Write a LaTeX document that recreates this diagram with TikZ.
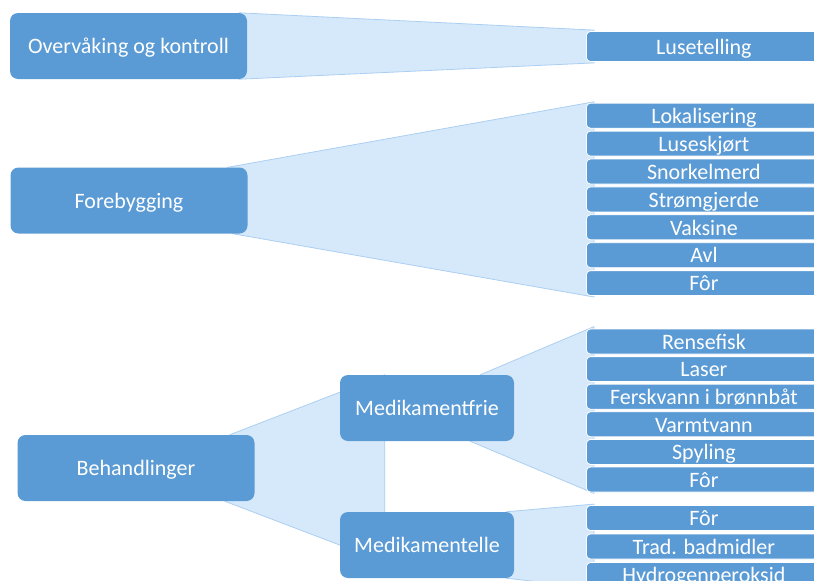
\documentclass[tikz,border=0pt]{standalone}
\usepackage{fontspec}
\setmainfont{Carlito}
\usetikzlibrary{calc}
\definecolor{boxblue}{HTML}{5B9BD5}
\definecolor{fanfill}{HTML}{D6E9FA}
\definecolor{fanline}{HTML}{ABCFF2}
\pgfdeclarelayer{bg}
\pgfsetlayers{bg,main}
\tikzset{
  lbl/.style={text=white, font=\fontsize{22}{24}\selectfont, text height=15.5pt, text depth=0pt, inner sep=0pt},
  mainbox/.style={lbl, fill=boxblue, rounded corners=8pt, minimum width=237pt, minimum height=66pt},
  midbox/.style={lbl, fill=boxblue, rounded corners=8pt, minimum width=174pt, minimum height=66pt},
  leaf/.style={lbl, fill=boxblue, draw=white, line width=0.8pt, rounded corners=4pt, minimum width=235pt, minimum height=25pt, anchor=west},
  fan/.style={fill=fanfill, draw=fanline, line width=0.8pt, line join=round},
}
\begin{document}
\begin{tikzpicture}[x=1pt, y=-1pt]
\useasboundingbox (0,0) rectangle (814,581);
\clip (0,0) rectangle (814,581);

% main boxes
\path
  (128.5,46)  node[mainbox] (ovk) {Overvåking og kontroll}
  (129,200.5) node[mainbox] (fore) {Forebygging}
  (136,468)   node[mainbox] (beh) {Behandlinger}
  (427,408)   node[midbox] (mf) {Medikamentfrie}
  (427,545)   node[midbox] (me) {Medikamentelle};

% leaves
\path
  (586,46.5)  node[leaf, minimum height=30pt] (lus) {Lusetelling}
  (586,115.7) node[leaf] (lok) {Lokalisering}
  (586,143.6) node[leaf] (lsk) {Luseskjørt}
  (586,171.5) node[leaf] (sno) {Snorkelmerd}
  (586,199.4) node[leaf] (str) {Strømgjerde}
  (586,227.3) node[leaf] (vak) {Vaksine}
  (586,255.2) node[leaf] (avl) {Avl}
  (586,283.1) node[leaf] (fora) {Fôr}
  (586,341.5) node[leaf] (ren) {Rensefisk}
  (586,369.1) node[leaf] (las) {Laser}
  (586,396.7) node[leaf] (fer) {Ferskvann i brønnbåt}
  (586,424.3) node[leaf] (var) {Varmtvann}
  (586,451.9) node[leaf] (spy) {Spyling}
  (586,479.5) node[leaf] (forb) {Fôr}
  (586,518)   node[leaf] (forc) {Fôr}
  (586,546.5) node[leaf] (tra) {Trad. badmidler}
  (586,575)   node[leaf] (hyd) {Hydrogenperoksid};

% fans (behind the boxes)
\begin{pgfonlayer}{bg}
  \draw[fan] ($(ovk.north east)+(-8,0)$) -- ($(lus.north west)+(8,-1)$)
     -- ($(lus.south west)+(8,1)$) -- ($(ovk.south east)+(-8,0)$) -- cycle;
  \draw[fan] ($(fore.north east)+(-20,0)$) -- ($(lok.north west)+(8,-1)$)
     -- ($(fora.south west)+(8,1)$) -- ($(fore.south east)+(-15,0)$) -- cycle;
  \draw[fan] ($(beh.north east)+(-25,0)$) -- ($(mf.north west)+(45,0)$)
     -- ($(me.south west)+(45,-16)$) -- ($(beh.south east)+(-30,0)$) -- cycle;
  \draw[fan] ($(mf.north east)+(-34,0)$) -- ($(ren.north west)+(8,-2)$)
     -- ($(forb.south west)+(8,1)$) -- ($(mf.south east)+(-44,0)$) -- cycle;
  \draw[fan] ($(me.north east)+(-8,0)$) -- ($(forc.north west)+(8,-1)$)
     -- ($(hyd.south west)+(8,0)$) -- ($(me.south east)+(-8,0)$) -- cycle;
\end{pgfonlayer}
\end{tikzpicture}
\end{document}
